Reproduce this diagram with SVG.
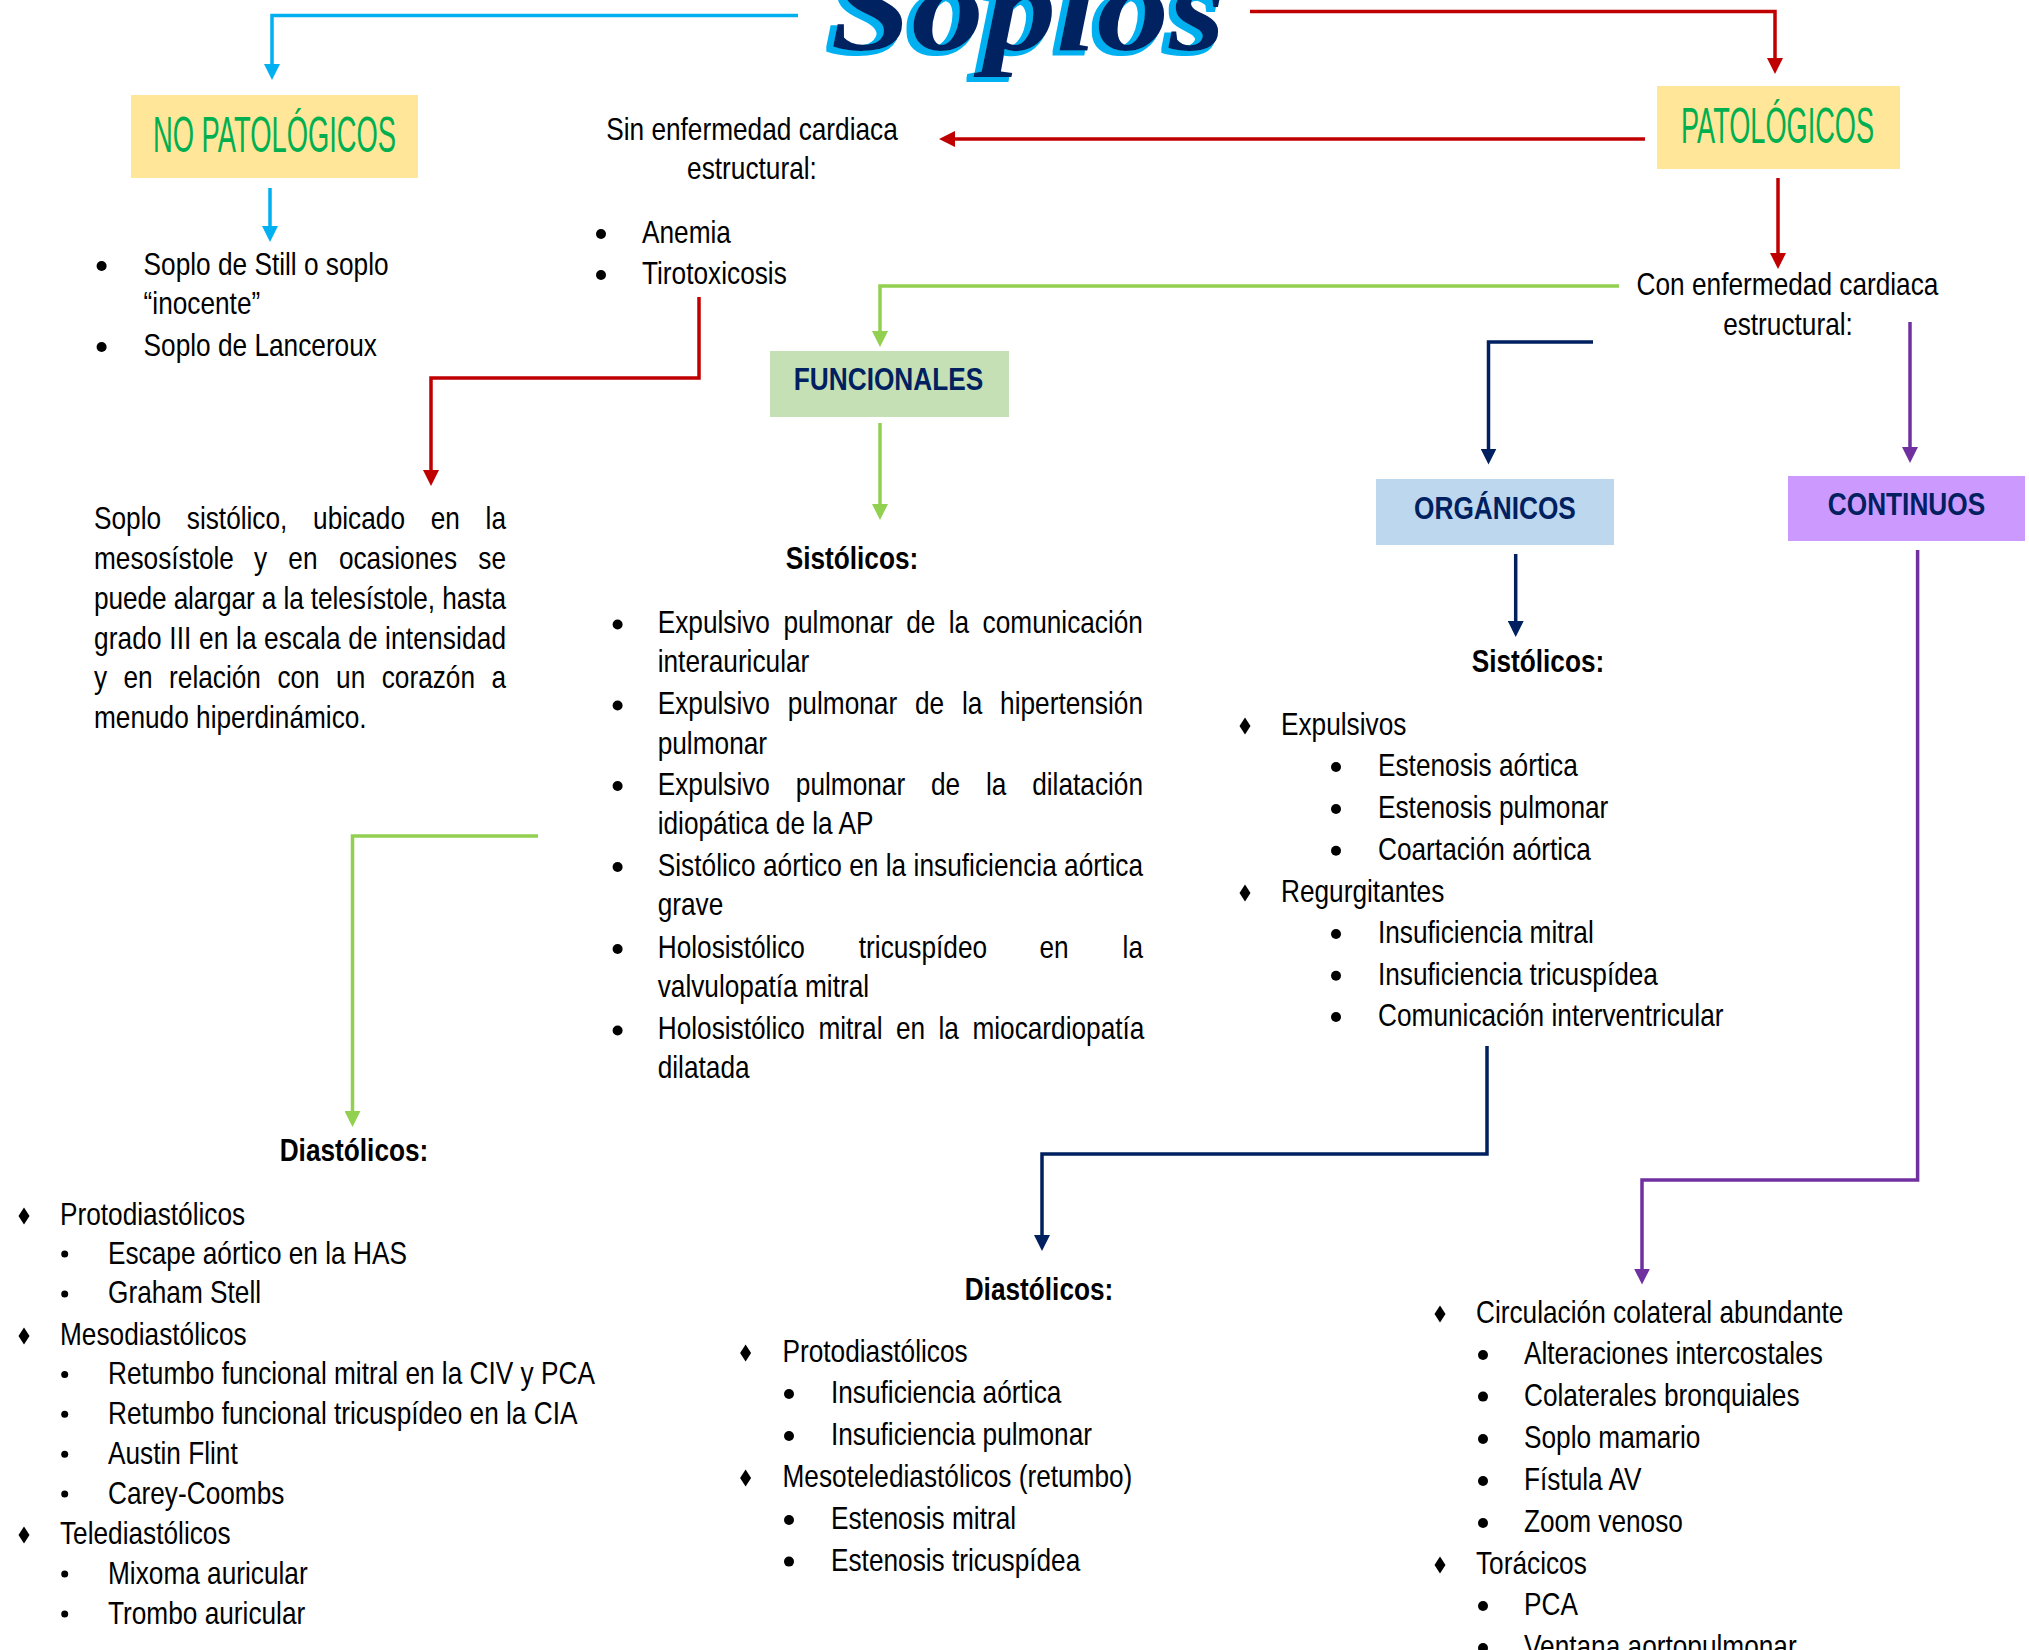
<svg xmlns="http://www.w3.org/2000/svg" xmlns:xlink="http://www.w3.org/1999/xlink" width="2029" height="1650" viewBox="0 0 2029 1650">
<style>
.t{font-family:"Liberation Sans",Arial,sans-serif;font-size:32px;fill:#000}
.b{font-weight:bold}
.c{text-anchor:middle}
.hd{fill:#002060;font-weight:bold}
.gr{fill:#00B050;font-size:50px}
.ln{fill:none;stroke-width:3.5;stroke-linejoin:miter}
.blue{stroke:#00B0F0}.red{stroke:#C00000}.green{stroke:#92D050}.navy{stroke:#002060}.purple{stroke:#7030A0}
</style>
<defs>
<marker id="aBlue" viewBox="0 0 16 16" refX="4" refY="8" markerWidth="16" markerHeight="16" markerUnits="userSpaceOnUse" orient="auto"><path d="M0,0L16,8L0,16z" fill="#00B0F0"/></marker>
<marker id="aRed" viewBox="0 0 16 16" refX="4" refY="8" markerWidth="16" markerHeight="16" markerUnits="userSpaceOnUse" orient="auto"><path d="M0,0L16,8L0,16z" fill="#C00000"/></marker>
<marker id="aGreen" viewBox="0 0 16 16" refX="4" refY="8" markerWidth="16" markerHeight="16" markerUnits="userSpaceOnUse" orient="auto"><path d="M0,0L16,8L0,16z" fill="#92D050"/></marker>
<marker id="aNavy" viewBox="0 0 16 16" refX="4" refY="8" markerWidth="16" markerHeight="16" markerUnits="userSpaceOnUse" orient="auto"><path d="M0,0L16,8L0,16z" fill="#002060"/></marker>
<marker id="aPurple" viewBox="0 0 16 16" refX="4" refY="8" markerWidth="16" markerHeight="16" markerUnits="userSpaceOnUse" orient="auto"><path d="M0,0L16,8L0,16z" fill="#7030A0"/></marker>
<circle id="dot" r="5" fill="#000"/>
<circle id="sdot" r="3.5" fill="#000"/>
<path id="dia" d="M0,-8.5L5.5,0L0,8.5L-5.5,0z" fill="#000"/>
<filter id="sh" x="-10%" y="-60%" width="120%" height="220%">
<feMorphology in="SourceAlpha" operator="dilate" radius="2" result="d"/>
<feOffset in="d" dx="-5" dy="3" result="o"/>
<feFlood flood-color="#00B0F0"/>
<feComposite in2="o" operator="in" result="s"/>
<feMerge><feMergeNode in="s"/><feMergeNode in="SourceGraphic"/></feMerge>
</filter>
</defs>
<rect width="2029" height="1650" fill="#fff"/>

<g id="title">
<text x="1028" y="50" text-anchor="middle" font-family="Liberation Serif,serif" font-weight="bold" font-style="italic" font-size="128" fill="#002060" textLength="395" lengthAdjust="spacingAndGlyphs" filter="url(#sh)">Soplos</text>
</g>

<g id="connectors">
<path class="ln blue" d="M798,15.5H272V68" marker-end="url(#aBlue)"/>
<path class="ln blue" d="M270,188V230" marker-end="url(#aBlue)"/>
<path class="ln red" d="M1250,11.5H1775V62" marker-end="url(#aRed)"/>
<path class="ln red" d="M1645,139H951" marker-end="url(#aRed)"/>
<path class="ln red" d="M1778,178V257" marker-end="url(#aRed)"/>
<path class="ln red" d="M699,297V378H431V474" marker-end="url(#aRed)"/>
<path class="ln green" d="M1619,286H880V335" marker-end="url(#aGreen)"/>
<path class="ln green" d="M880,423V508" marker-end="url(#aGreen)"/>
<path class="ln green" d="M538,836H352.5V1115" marker-end="url(#aGreen)"/>
<path class="ln navy" d="M1593,342H1488.5V452.6" marker-end="url(#aNavy)"/>
<path class="ln navy" d="M1515.7,554V625" marker-end="url(#aNavy)"/>
<path class="ln navy" d="M1487,1046V1154H1042V1239" marker-end="url(#aNavy)"/>
<path class="ln purple" d="M1910,322V451" marker-end="url(#aPurple)"/>
<path class="ln purple" d="M1917.6,550V1180H1642V1272.6" marker-end="url(#aPurple)"/>
</g>

<g id="node-no-patologicos">
<rect x="131" y="95" width="287" height="83" fill="#FFE699"/>
<text class="t gr c" x="274.5" y="152" textLength="243" lengthAdjust="spacingAndGlyphs">NO PATOLÓGICOS</text>
</g>

<g id="node-patologicos">
<rect x="1657" y="86" width="243" height="83" fill="#FFE699"/>
<text class="t gr c" x="1777.5" y="143" textLength="193" lengthAdjust="spacingAndGlyphs">PATOLÓGICOS</text>
</g>

<g id="node-no-pat-list">
<use href="#dot" x="101.6" y="266"/>
<use href="#dot" x="101.6" y="347"/>
<g transform="scale(0.82,1)">
<text class="t" x="175.12" y="275">Soplo de Still o soplo</text>
<text class="t" x="175.12" y="314">“inocente”</text>
<text class="t" x="175.12" y="356">Soplo de Lanceroux</text>
</g>
</g>

<g id="node-sin-enfermedad">
<use href="#dot" x="601" y="234"/>
<use href="#dot" x="601" y="275"/>
<g transform="scale(0.82,1)">
<text class="t c" x="917.07" y="140">Sin enfermedad cardiaca</text>
<text class="t c" x="917.07" y="179">estructural:</text>
<text class="t" x="782.93" y="243">Anemia</text>
<text class="t" x="782.93" y="284">Tirotoxicosis</text>
</g>
</g>

<g id="node-soplo-sistolico">
<g transform="scale(0.82,1)">
<text class="t" y="529.5"><tspan x="114.63">Soplo</tspan><tspan x="227.8">sistólico,</tspan><tspan x="381.83">ubicado</tspan><tspan x="525.24">en</tspan><tspan x="592.2">la</tspan></text>
<text class="t" y="569.2"><tspan x="114.63">mesosístole</tspan><tspan x="309.63">y</tspan><tspan x="351.59">en</tspan><tspan x="413.29">ocasiones</tspan><tspan x="583.29">se</tspan></text>
<text class="t" x="114.63" y="608.9" textLength="502.44" lengthAdjust="spacing">puede alargar a la telesístole, hasta</text>
<text class="t" x="114.63" y="648.6" textLength="502.44" lengthAdjust="spacing">grado III en la escala de intensidad</text>
<text class="t" y="688.3"><tspan x="114.63">y</tspan><tspan x="150.61">en</tspan><tspan x="206.22">relación</tspan><tspan x="338.29">con</tspan><tspan x="409.88">un</tspan><tspan x="465.49">corazón</tspan><tspan x="599.27">a</tspan></text>
<text class="t" x="114.63" y="728">menudo hiperdinámico.</text>
</g>
</g>

<g id="node-con-enfermedad">
<g transform="scale(0.82,1)">
<text class="t c" x="2179.88" y="295">Con enfermedad cardiaca</text>
<text class="t c" x="2180.49" y="335">estructural:</text>
</g>
</g>

<g id="node-funcionales">
<rect x="770" y="351" width="239" height="66" fill="#C5E0B4"/>
<g transform="scale(0.82,1)">
<text class="t hd c" x="1083.54" y="390">FUNCIONALES</text>
</g>
</g>

<g id="node-func-sistolicos">
<use href="#dot" x="617.6" y="624.5"/>
<use href="#dot" x="617.6" y="705.5"/>
<use href="#dot" x="617.6" y="786"/>
<use href="#dot" x="617.6" y="867"/>
<use href="#dot" x="617.6" y="949"/>
<use href="#dot" x="617.6" y="1030.5"/>
<g transform="scale(0.82,1)">
<text class="t b c" x="1039.02" y="569.5">Sistólicos:</text>
<text class="t" y="633.5"><tspan x="802.07">Expulsivo</tspan><tspan x="955.37">pulmonar</tspan><tspan x="1105.12">de</tspan><tspan x="1157.07">la</tspan><tspan x="1198.29">comunicación</tspan></text>
<text class="t" x="802.07" y="672.5">interauricular</text>
<text class="t" y="714.5"><tspan x="802.07">Expulsivo</tspan><tspan x="960.73">pulmonar</tspan><tspan x="1115.85">de</tspan><tspan x="1173.17">la</tspan><tspan x="1219.63">hipertensión</tspan></text>
<text class="t" x="802.07" y="754">pulmonar</text>
<text class="t" y="795"><tspan x="802.07">Expulsivo</tspan><tspan x="970.49">pulmonar</tspan><tspan x="1135.37">de</tspan><tspan x="1202.44">la</tspan><tspan x="1258.78">dilatación</tspan></text>
<text class="t" x="802.07" y="834">idiopática de la AP</text>
<text class="t" x="802.07" y="876" textLength="591.83" lengthAdjust="spacing">Sistólico aórtico en la insuficiencia aórtica</text>
<text class="t" x="802.07" y="915.5">grave</text>
<text class="t" y="958"><tspan x="802.07">Holosistólico</tspan><tspan x="1047.32">tricuspídeo</tspan><tspan x="1267.68">en</tspan><tspan x="1369.02">la</tspan></text>
<text class="t" x="802.07" y="997">valvulopatía mitral</text>
<text class="t" y="1039.5"><tspan x="802.07">Holosistólico</tspan><tspan x="998.05">mitral</tspan><tspan x="1092.56">en</tspan><tspan x="1144.51">la</tspan><tspan x="1185.85">miocardiopatía</tspan></text>
<text class="t" x="802.07" y="1078">dilatada</text>
</g>
</g>

<g id="node-func-diastolicos">
<use href="#dia" x="24" y="1216"/>
<use href="#sdot" x="64.7" y="1254"/>
<use href="#sdot" x="64.7" y="1294"/>
<use href="#dia" x="24" y="1336"/>
<use href="#sdot" x="64.7" y="1374.5"/>
<use href="#sdot" x="64.7" y="1414.3"/>
<use href="#sdot" x="64.7" y="1454.3"/>
<use href="#sdot" x="64.7" y="1494"/>
<use href="#dia" x="24" y="1535"/>
<use href="#sdot" x="64.7" y="1574"/>
<use href="#sdot" x="64.7" y="1614"/>
<g transform="scale(0.82,1)">
<text class="t b c" x="431.71" y="1161">Diastólicos:</text>
<text class="t" x="73.17" y="1224.8">Protodiastólicos</text>
<text class="t" x="131.71" y="1263.7">Escape aórtico en la HAS</text>
<text class="t" x="131.71" y="1303.5">Graham Stell</text>
<text class="t" x="73.17" y="1344.8">Mesodiastólicos</text>
<text class="t" x="131.71" y="1384.3">Retumbo funcional mitral en la CIV y PCA</text>
<text class="t" x="131.71" y="1424">Retumbo funcional tricuspídeo en la CIA</text>
<text class="t" x="131.71" y="1464">Austin Flint</text>
<text class="t" x="131.71" y="1503.6">Carey-Coombs</text>
<text class="t" x="73.17" y="1544">Telediastólicos</text>
<text class="t" x="131.71" y="1583.7">Mixoma auricular</text>
<text class="t" x="131.71" y="1623.6">Trombo auricular</text>
</g>
</g>

<g id="node-organicos">
<rect x="1376" y="479" width="238" height="66" fill="#BDD7EE"/>
<g transform="scale(0.82,1)">
<text class="t hd c" x="1823.17" y="519">ORGÁNICOS</text>
</g>
</g>

<g id="node-org-sistolicos">
<use href="#dia" x="1245" y="726"/>
<use href="#dot" x="1336" y="767"/>
<use href="#dot" x="1336" y="809"/>
<use href="#dot" x="1336" y="850.7"/>
<use href="#dia" x="1245" y="893"/>
<use href="#dot" x="1336" y="934"/>
<use href="#dot" x="1336" y="975.7"/>
<use href="#dot" x="1336" y="1017"/>
<g transform="scale(0.82,1)">
<text class="t b c" x="1875.61" y="672">Sistólicos:</text>
<text class="t" x="1562.2" y="734.7">Expulsivos</text>
<text class="t" x="1680.49" y="776">Estenosis aórtica</text>
<text class="t" x="1680.49" y="818">Estenosis pulmonar</text>
<text class="t" x="1680.49" y="859.7">Coartación aórtica</text>
<text class="t" x="1562.2" y="902">Regurgitantes</text>
<text class="t" x="1680.49" y="943">Insuficiencia mitral</text>
<text class="t" x="1680.49" y="984.7">Insuficiencia tricuspídea</text>
<text class="t" x="1680.49" y="1026">Comunicación interventricular</text>
</g>
</g>

<g id="node-org-diastolicos">
<use href="#dia" x="745.6" y="1353"/>
<use href="#dot" x="789" y="1394"/>
<use href="#dot" x="789" y="1436"/>
<use href="#dia" x="745.6" y="1478"/>
<use href="#dot" x="789" y="1520"/>
<use href="#dot" x="789" y="1561.6"/>
<g transform="scale(0.82,1)">
<text class="t b c" x="1267.07" y="1300">Diastólicos:</text>
<text class="t" x="954.27" y="1361.7">Protodiastólicos</text>
<text class="t" x="1013.41" y="1403">Insuficiencia aórtica</text>
<text class="t" x="1013.41" y="1445">Insuficiencia pulmonar</text>
<text class="t" x="954.27" y="1486.7">Mesotelediastólicos (retumbo)</text>
<text class="t" x="1013.41" y="1529">Estenosis mitral</text>
<text class="t" x="1013.41" y="1570.6">Estenosis tricuspídea</text>
</g>
</g>

<g id="node-continuos">
<rect x="1788" y="476" width="237" height="65" fill="#CC99FF"/>
<g transform="scale(0.82,1)">
<text class="t hd c" x="2325" y="515">CONTINUOS</text>
</g>
</g>

<g id="node-cont-list">
<use href="#dia" x="1440" y="1314"/>
<use href="#dot" x="1483" y="1355"/>
<use href="#dot" x="1483" y="1396.6"/>
<use href="#dot" x="1483" y="1439"/>
<use href="#dot" x="1483" y="1481"/>
<use href="#dot" x="1483" y="1523"/>
<use href="#dia" x="1440" y="1565"/>
<use href="#dot" x="1483" y="1606"/>
<use href="#dot" x="1483" y="1648"/>
<g transform="scale(0.82,1)">
<text class="t" x="1800" y="1322.8">Circulación colateral abundante</text>
<text class="t" x="1858.54" y="1364">Alteraciones intercostales</text>
<text class="t" x="1858.54" y="1405.6">Colaterales bronquiales</text>
<text class="t" x="1858.54" y="1448">Soplo mamario</text>
<text class="t" x="1858.54" y="1490">Fístula AV</text>
<text class="t" x="1858.54" y="1532">Zoom venoso</text>
<text class="t" x="1800" y="1573.6">Torácicos</text>
<text class="t" x="1858.54" y="1615">PCA</text>
<text class="t" x="1858.54" y="1657">Ventana aortopulmonar</text>
</g>
</g>
</svg>
